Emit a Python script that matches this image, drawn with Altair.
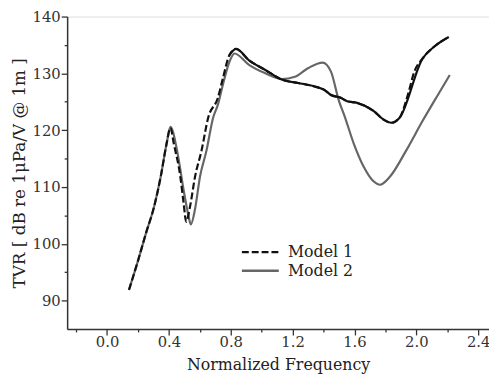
import altair as alt
import pandas as pd

model1_x = [0.142, 0.20, 0.25, 0.305, 0.347, 0.385, 0.41, 0.432, 0.474, 0.495, 0.512, 0.537, 0.569, 0.611,
            0.654, 0.717, 0.749, 0.791, 0.834, 0.918, 1.024, 1.13, 1.236, 1.342, 1.405, 1.448, 1.511, 1.553,
            1.617, 1.723, 1.786, 1.839, 1.892, 1.945, 1.987, 2.04, 2.125, 2.21]
model1_y = [91.9, 97.0, 101.7, 106.6, 111.8, 117.6, 120.4, 117.6, 111.8, 107.2, 103.9, 106.6, 111.8, 116.4,
            122.2, 125.7, 129.1, 133.2, 134.3, 132.3, 130.6, 128.9, 128.3, 127.7, 127.1, 126.2, 125.7, 125.1,
            124.8, 123.4, 121.9, 121.3, 122.2, 126.2, 130.3, 132.6, 134.9, 136.4]

model2_x = [0.142, 0.20, 0.25, 0.305, 0.347, 0.385, 0.41, 0.453, 0.495, 0.527, 0.542, 0.569, 0.601, 0.643,
            0.686, 0.717, 0.749, 0.791, 0.824, 0.918, 1.024, 1.13, 1.215, 1.299, 1.394, 1.448, 1.5, 1.532,
            1.596, 1.659, 1.723, 1.765, 1.829, 1.934, 2.04, 2.146, 2.216]
model2_y = [91.9, 97.0, 101.7, 106.6, 111.8, 117.6, 120.6, 116.4, 109.5, 104.9, 103.4, 106.1, 111.8, 116.4,
            122.2, 124.5, 128.0, 132.0, 133.5, 131.5, 130.0, 129.0, 129.4, 130.9, 131.9, 130.3, 125.1, 122.8,
            117.6, 113.6, 111.0, 110.4, 111.8, 116.4, 121.6, 126.5, 129.7]

series_names = ["Model 1", "Model 2"]
x_ticks = [-0.2, 0.0, 0.2, 0.4, 0.6, 0.8, 1.0, 1.2, 1.4, 1.6, 1.8, 2.0, 2.2, 2.4]
y_ticks = [90, 95, 100, 105, 110, 115, 120, 125, 130, 135, 140]

df1 = pd.DataFrame({"x": model1_x, "y": model1_y, "series": series_names[0]})
df2 = pd.DataFrame({"x": model2_x, "y": model2_y, "series": series_names[1]})

FONT = "DejaVu Serif"

xscale = alt.Scale(domain=[-0.258, 2.47], nice=False, zero=False)
yscale = alt.Scale(domain=[85, 140], nice=False, zero=False)

XMAJOR = "abs(round(datum.value * 10)) % 4 == 0"

xaxis = alt.Axis(
    values=x_ticks,
    labelExpr="(" + XMAJOR + ") ? format(datum.value, '.1f') : ''",
    tickSize={"condition": {"test": XMAJOR, "value": 6}, "value": 3},
    title="Normalized Frequency", grid=False, labelFont=FONT, titleFont=FONT,
    labelFontSize=15, titleFontSize=16, titleFontWeight="normal", labelColor="#333", titleColor="#222",
    domainColor="#333", tickColor="#333", domainWidth=1.5, tickWidth=1.3, labelPadding=0, titlePadding=7,
    labelFlush=False, labelOverlap=False,
)
yaxis = alt.Axis(
    values=y_ticks,
    labelExpr="datum.value % 10 == 0 ? format(datum.value, 'd') : ''",
    tickSize={"condition": {"test": "datum.value % 10 == 0", "value": 6}, "value": 3},
    title="TVR [ dB re 1μPa/V @ 1m ]", grid=False, labelFont=FONT, titleFont=FONT,
    labelFontSize=15, titleFontSize=17, titleFontWeight="normal", labelColor="#333", titleColor="#222",
    domainColor="#333", tickColor="#333", domainWidth=1.5, tickWidth=1.3, labelPadding=1, titlePadding=4,
    labelFlush=False, labelOverlap=False,
)

def leg(y):
    return alt.Legend(title=None, orient="none", legendX=176, legendY=y,
                      symbolType="stroke", symbolSize=1400, symbolStrokeWidth=2.5,
                      symbolStrokeColor="#111111",
                      labelFont=FONT, labelFontSize=16, labelColor="#222", labelOffset=8)

X = alt.X("x:Q", scale=xscale, axis=xaxis)
Y = alt.Y("y:Q", scale=yscale, axis=yaxis)

line2 = alt.Chart(df2).mark_line(interpolate="monotone", strokeWidth=2.2).encode(
    x=X, y=Y,
    color=alt.Color("series:N", scale=alt.Scale(domain=[series_names[1]], range=["#666666"]),
                    legend=alt.Legend(title=None, orient="none", legendX=176, legendY=238,
                                      symbolType="stroke", symbolSize=1400, symbolStrokeWidth=2.5,
                                      labelFont=FONT, labelFontSize=16, labelColor="#222", labelOffset=8)),
    order=alt.Order("x:Q"),
)

line1 = alt.Chart(df1).mark_line(interpolate="monotone", strokeWidth=2.2, color="#111111").encode(
    x=X, y=Y,
    strokeDash=alt.StrokeDash("series:N", scale=alt.Scale(domain=[series_names[0]], range=[[7, 3]]),
                              legend=leg(219)),
    order=alt.Order("x:Q"),
)

overlay = alt.Chart(df1).transform_filter(
    "(datum.x >= 0.79 && datum.x <= 1.92) || datum.x >= 1.99"
).mark_line(interpolate="monotone", strokeWidth=2.2, color="#111111").encode(
    x=X, y=Y, order=alt.Order("x:Q"),
)

chart = alt.layer(line2, line1, overlay).properties(
    width=428, height=317,
    autosize=alt.AutoSizeParams(type="none"),
    padding={"left": 60, "top": 6, "right": 0, "bottom": 45},
).configure_view(stroke=None).configure(background="white")

chart.save("out.html", embed_options={"renderer": "svg", "actions": False})
